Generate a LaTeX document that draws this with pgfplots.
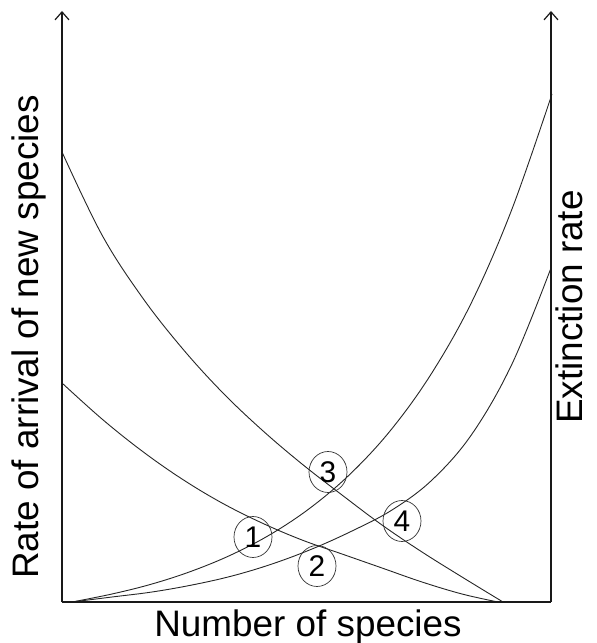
\documentclass[border=0pt]{standalone}
\usepackage{pgfplots}
\pgfplotsset{compat=1.18}
\usepackage{fontspec}
\setmainfont{Liberation Sans}
\usetikzlibrary{arrows.meta}
\begin{document}
\begin{tikzpicture}
\path[use as bounding box] (-62bp,-41bp) rectangle (535bp,602bp);
\begin{axis}[at={(0,0)},anchor=south west,scale only axis,
  width=489bp,height=591bp,xmin=0,xmax=489,ymin=0,ymax=591,
  axis lines=none,xtick=\empty,ytick=\empty,clip=false]
% upper immigration curve
\addplot[black!85,line width=0.9bp,smooth,tension=0.6] coordinates {
(0,450) (40,367) (80,305) (120,254) (160,210) (200,172) (240,138) (280,107) (320,77) (360,50) (400,25) (441,0)};
% lower immigration curve
\addplot[black!85,line width=0.9bp,smooth,tension=0.6] coordinates {
(0,219) (40,183) (80,151) (120,123) (160,99) (200,79) (240,62) (280,48) (320,34) (360,20) (400,8) (436,0)};
% upper extinction curve
\addplot[black!85,line width=0.9bp,smooth,tension=0.6] coordinates {
(10,0) (50,8) (90,18) (130,31) (170,47.5) (210,68.5) (250,95.4) (290,129.7) (330,173.4) (370,229.3) (410,300.5) (450,393) (490,508)};
% lower extinction curve
\addplot[black!85,line width=0.9bp,smooth,tension=0.6] coordinates {
(10,0) (50,5) (90,10) (130,17) (170,26) (210,38) (250,53) (290,71) (330,92) (370,122) (410,168) (450,238) (489,334)};
% axes
\draw[black!90,line width=1.2bp,-{Straight Barb[length=8bp,width=14bp,line width=1.2bp]}] (axis cs:0,0) -- (axis cs:0,591);
\draw[black!90,line width=1.2bp,-{Straight Barb[length=8bp,width=14bp,line width=1.2bp]}] (axis cs:489,0) -- (axis cs:489,591);
\draw[black!90,line width=1.2bp] (axis cs:0,0) -- (axis cs:489,0);
% circled numbers
\draw[black!80,line width=0.7bp] (axis cs:191,65) ellipse [x radius=19bp,y radius=20.5bp];
\node at (axis cs:191,65) {\fontsize{30}{32}\selectfont 1};
\draw[black!80,line width=0.7bp] (axis cs:255,36) ellipse [x radius=19bp,y radius=20.5bp];
\node at (axis cs:255,36) {\fontsize{30}{32}\selectfont 2};
\draw[black!80,line width=0.7bp] (axis cs:266,130) ellipse [x radius=19bp,y radius=20.5bp];
\node at (axis cs:266,130) {\fontsize{30}{32}\selectfont 3};
\draw[black!80,line width=0.7bp] (axis cs:340,81) ellipse [x radius=19bp,y radius=20.5bp];
\node at (axis cs:340,81) {\fontsize{30}{32}\selectfont 4};
% labels
\node[anchor=base,inner sep=0pt] at (axis cs:246,-34) {\fontsize{37}{44}\selectfont Number of species};
\node[anchor=base,inner sep=0pt,rotate=90] at (axis cs:-23,265) {\fontsize{37}{44}\selectfont Rate of arrival of new species};
\node[anchor=base,inner sep=0pt,rotate=90] at (axis cs:520,295) {\fontsize{37}{44}\selectfont Extinction rate};
\end{axis}
\end{tikzpicture}
\end{document}
